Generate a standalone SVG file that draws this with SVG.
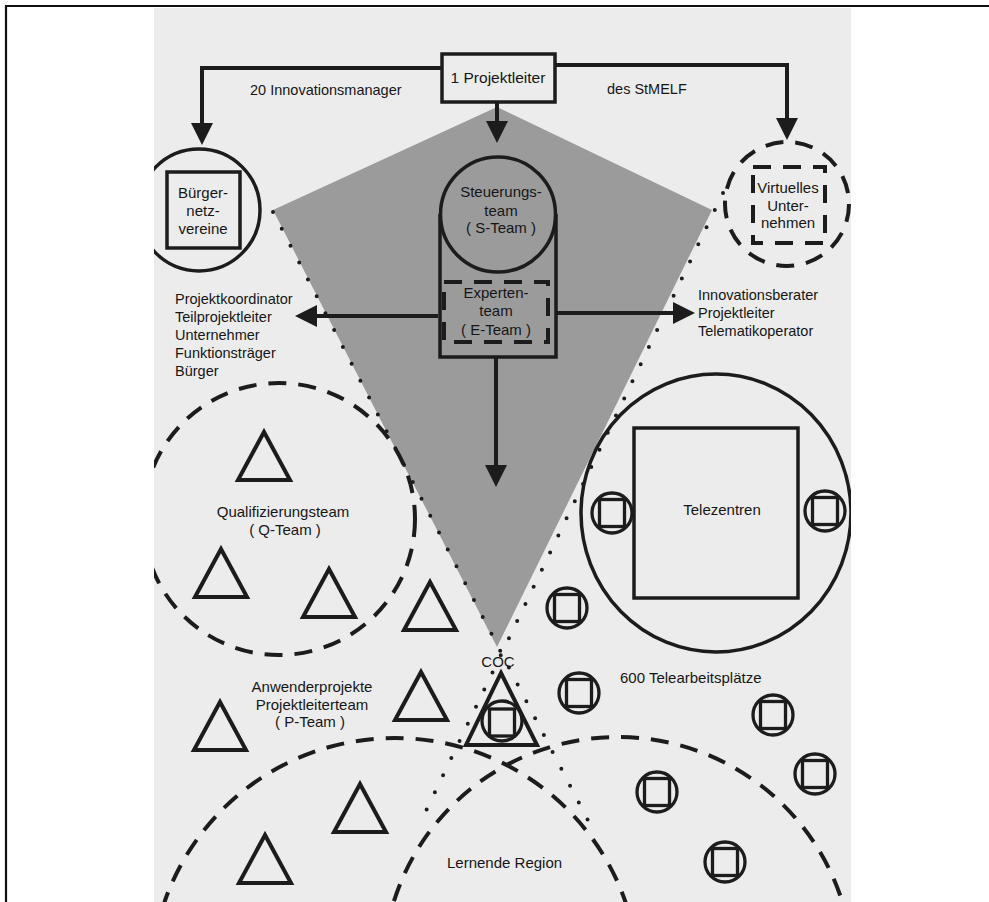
<svg xmlns="http://www.w3.org/2000/svg" xmlns:xlink="http://www.w3.org/1999/xlink" width="989" height="902" viewBox="0 0 989 902">
<defs>
<style>
.t{font-family:"Liberation Sans",Arial,Helvetica,sans-serif;font-size:15px;fill:#161616}
.s{font-size:14.5px}
.m{text-anchor:middle}
.ln{stroke:#1c1c1c;stroke-width:4;fill:none}
.bx{stroke:#1c1c1c;stroke-width:3.5;fill:none}
.dsh{stroke:#1c1c1c;stroke-width:4;fill:none;stroke-dasharray:18 12}
.dot{stroke:#1c1c1c;stroke-width:4;fill:none;stroke-dasharray:0 19;stroke-linecap:round}
.tri{stroke:#1c1c1c;stroke-width:4;fill:none;stroke-linejoin:miter}
.ic{stroke:#1c1c1c;stroke-width:3.3;fill:none}
</style>
<marker id="ah" viewBox="0 0 22 22" refX="14" refY="11" markerWidth="22" markerHeight="22" markerUnits="userSpaceOnUse" orient="auto">
<path d="M0,0 L22,11 L0,22 z" fill="#1c1c1c"/>
</marker>
<clipPath id="scan"><rect x="154" y="8" width="697" height="894"/></clipPath>
<g id="icon"><circle cx="0" cy="0" r="20" class="ic"/><rect x="-12.5" y="-13.5" width="25" height="27" class="ic"/></g>
<polygon id="tr" points="0,0 26,48 -26,48" class="tri"/>
</defs>

<rect x="0" y="0" width="989" height="902" fill="#ffffff"/>
<rect x="154" y="8" width="697" height="894" fill="#ececec"/>
<g id="frame" fill="none" stroke="#111" stroke-width="2.2">
<line x1="5" y1="6" x2="989" y2="6"/>
<line x1="6" y1="5" x2="6" y2="902"/>
</g>

<g clip-path="url(#scan)">
<g id="region">
<polygon points="497,107 712,210 497,647 273,210" fill="#9b9b9b"/>
<line x1="273" y1="212" x2="592" y2="828" class="dot"/>
<line x1="723" y1="193" x2="423" y2="817" class="dot"/>
</g>

<g id="lernende-region">
<circle cx="395" cy="982" r="244" class="dsh"/>
<circle cx="618" cy="972" r="235" class="dsh"/>
<text class="t" x="447" y="868">Lernende Region</text>
</g>

<g id="qteam">
<circle cx="279" cy="519" r="136" class="dsh"/>
<text class="t m" x="283" y="517">Qualifizierungsteam</text>
<text class="t m" x="285" y="535">( Q-Team )</text>
<use href="#tr" x="221" y="549"/>
<use href="#tr" x="329" y="569"/>
</g>

<g id="pteam">
<text class="t m" x="312" y="692">Anwenderprojekte</text>
<text class="t m" x="312" y="710">Projektleiterteam</text>
<text class="t m" x="310" y="727">( P-Team )</text>
<use href="#tr" x="264" y="432"/>
<use href="#tr" x="430" y="582"/>
<use href="#tr" x="421" y="672"/>
<use href="#tr" x="220" y="702"/>
<use href="#tr" x="360" y="784"/>
<use href="#tr" x="265" y="835"/>
</g>

<g id="coc">
<polygon points="501,673 537,745 466,745" class="tri"/>
<circle cx="502" cy="721" r="20" class="ic"/>
<rect x="489.5" y="709" width="25" height="27" class="ic"/>
<text class="t m" x="498" y="667">COC</text>
</g>

<g id="telezentren">
<ellipse cx="716" cy="513" rx="135" ry="139" class="bx" stroke-width="3"/>
<rect x="634" y="428" width="164" height="170" class="bx" stroke-width="3"/>
<text class="t m" x="722" y="515">Telezentren</text>
</g>

<g id="telearbeitsplaetze">
<use href="#icon" x="612" y="513"/>
<use href="#icon" x="825" y="511"/>
<use href="#icon" x="567" y="608"/>
<use href="#icon" x="579" y="693"/>
<use href="#icon" x="773" y="715"/>
<use href="#icon" x="815" y="774"/>
<use href="#icon" x="657" y="792"/>
<use href="#icon" x="725" y="862"/>
<text class="t" x="620" y="683">600 Telearbeitsplätze</text>
</g>

<g id="buergernetzvereine">
<circle cx="199" cy="210" r="61" class="bx"/>
<rect x="167" y="172" width="73" height="76" class="bx"/>
<text class="t m" x="203" y="198">Bürger-</text>
<text class="t m" x="203" y="216">netz-</text>
<text class="t m" x="203" y="234">vereine</text>
</g>

<g id="virtuelles-unternehmen">
<circle cx="787" cy="204" r="62" class="dsh" stroke-dasharray="16 10"/>
<rect x="753" y="167" width="72" height="76" class="dsh" stroke-dasharray="15 8"/>
<text class="t m" x="788" y="193">Virtuelles</text>
<text class="t m" x="788" y="211">Unter-</text>
<text class="t m" x="788" y="228">nehmen</text>
</g>

<g id="steuerungsteam">
<path d="M440,214 V357 H556 V214" class="bx"/>
<circle cx="498" cy="214.5" r="57.5" class="bx" fill="#ececec"/>
<text class="t m" x="501" y="197">Steuerungs-</text>
<text class="t m" x="501" y="216">team</text>
<text class="t m" x="501" y="233">( S-Team )</text>
</g>

<g id="expertenteam">
<rect x="444" y="282" width="104" height="60" fill="#efefef" class="dsh" stroke-dasharray="16 7" stroke-width="3.5"/>
<text class="t m" x="496" y="298">Experten-</text>
<text class="t m" x="496" y="316">team</text>
<text class="t m" x="496" y="335">( E-Team )</text>
</g>

<g id="projektleiter">
<rect x="442" y="54" width="113" height="48" class="bx" fill="#ececec"/>
<text class="t m" x="498" y="83" style="font-size:15.5px">1 Projektleiter</text>
</g>

<g id="rollen-links">
<text class="t s" x="175" y="304">Projektkoordinator</text>
<text class="t s" x="175" y="322">Teilprojektleiter</text>
<text class="t s" x="175" y="340">Unternehmer</text>
<text class="t s" x="175" y="358">Funktionsträger</text>
<text class="t s" x="175" y="376">Bürger</text>
</g>

<g id="rollen-rechts">
<text class="t s" x="698" y="300">Innovationsberater</text>
<text class="t s" x="698" y="318">Projektleiter</text>
<text class="t s" x="698" y="336">Telematikoperator</text>
</g>

<g id="connectors">
<path d="M442,68 H202 V137" class="ln" marker-end="url(#ah)"/>
<path d="M497,102 V135" class="ln" marker-end="url(#ah)"/>
<path d="M555,65 H787 V132" class="ln" marker-end="url(#ah)"/>
<path d="M438,316 H303" class="ln" marker-end="url(#ah)"/>
<path d="M556,313 H687" class="ln" marker-end="url(#ah)"/>
<path d="M496,357 V479" class="ln" marker-end="url(#ah)"/>
<text class="t s" x="250" y="95">20 Innovationsmanager</text>
<text class="t s" x="607" y="94">des StMELF</text>
</g>
</g>
</svg>
